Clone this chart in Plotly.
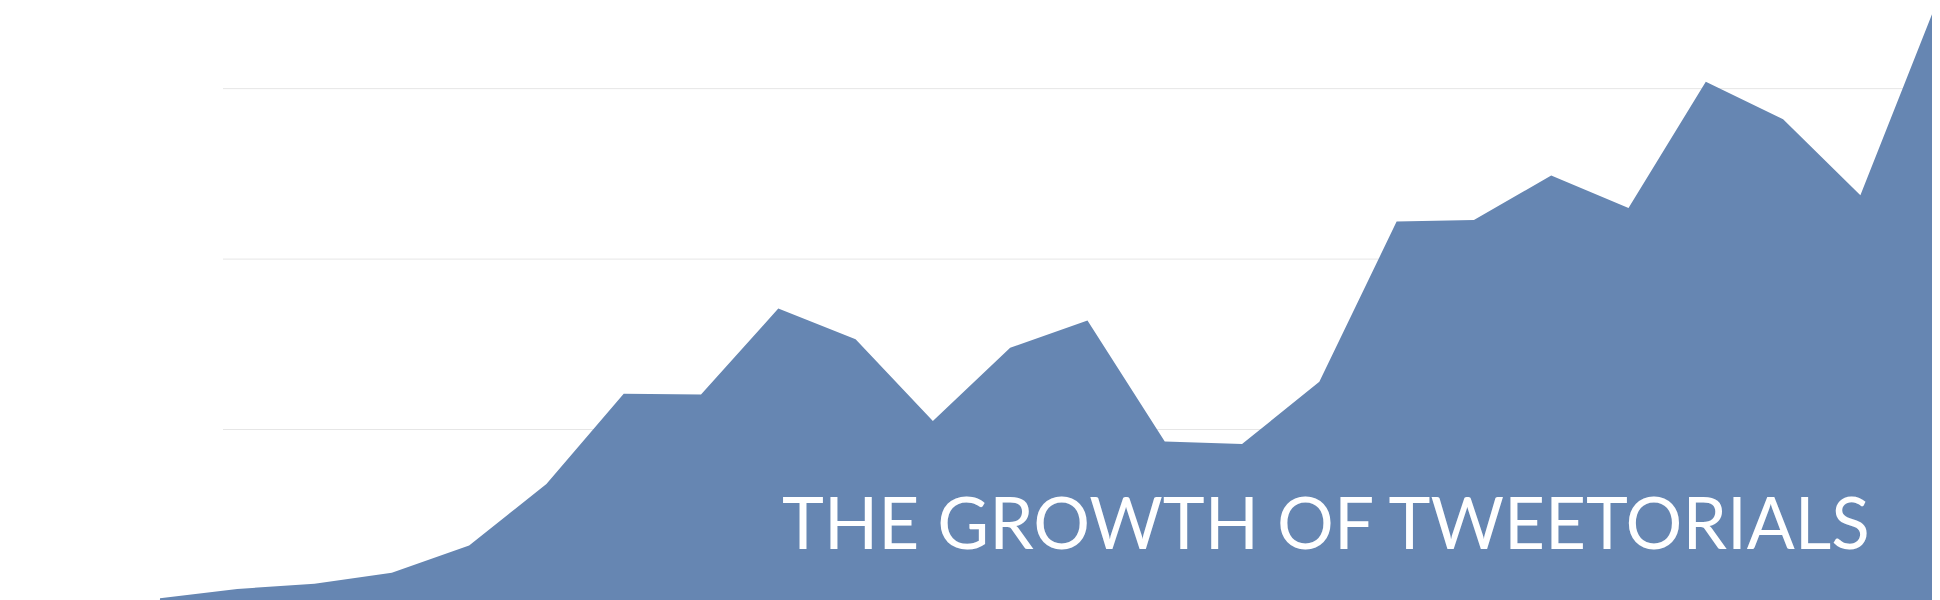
"""
Area chart: the growth of tweetorials.
"""
import plotly.graph_objs as go

# monthly tweetorial counts
periods = list(range(24))
tweetorials = [1, 6.5, 9.5, 16, 32, 68, 121, 120.5, 171, 153, 105, 148,
               164, 93, 91.5, 128, 222, 223, 249, 230, 304, 282, 237.5, 352]
grid_values = [100, 200, 300]
title_text = "THE GROWTH OF TWEETORIALS"

fill_color = '#6686b2'

# the page body adds an 8px margin, so the figure is 8px smaller each way
W, H = 1932, 592

fig = go.Figure()
fig.add_trace(go.Scatter(
    x=periods, y=tweetorials,
    mode='lines', fill='tozeroy',
    line=dict(width=0, color=fill_color),
    fillcolor=fill_color,
    hoverinfo='y'))

# gridlines start right of the area's foot, so draw them under the trace
for v in grid_values:
    fig.add_shape(type='line', xref='paper', yref='y', x0=215 / W, x1=1,
                  y0=v, y1=v, layer='below', line=dict(color='#e6e6e6', width=1))

fig.update_layout(
    width=W, height=H,
    margin=dict(l=0, r=0, t=0, b=0),
    paper_bgcolor='white',
    plot_bgcolor='white',
    showlegend=False,
    xaxis=dict(range=[-1.966, 23.03], visible=False),
    yaxis=dict(range=[0, 347.3], visible=False),
    annotations=[dict(
        text=title_text, xref='paper', yref='paper',
        x=1864 / W, y=1 - 513 / H, xanchor='right', yanchor='middle',
        showarrow=False,
        font=dict(family='Lato', size=71, color='white'))],
)

fig.write_html("out.html")
